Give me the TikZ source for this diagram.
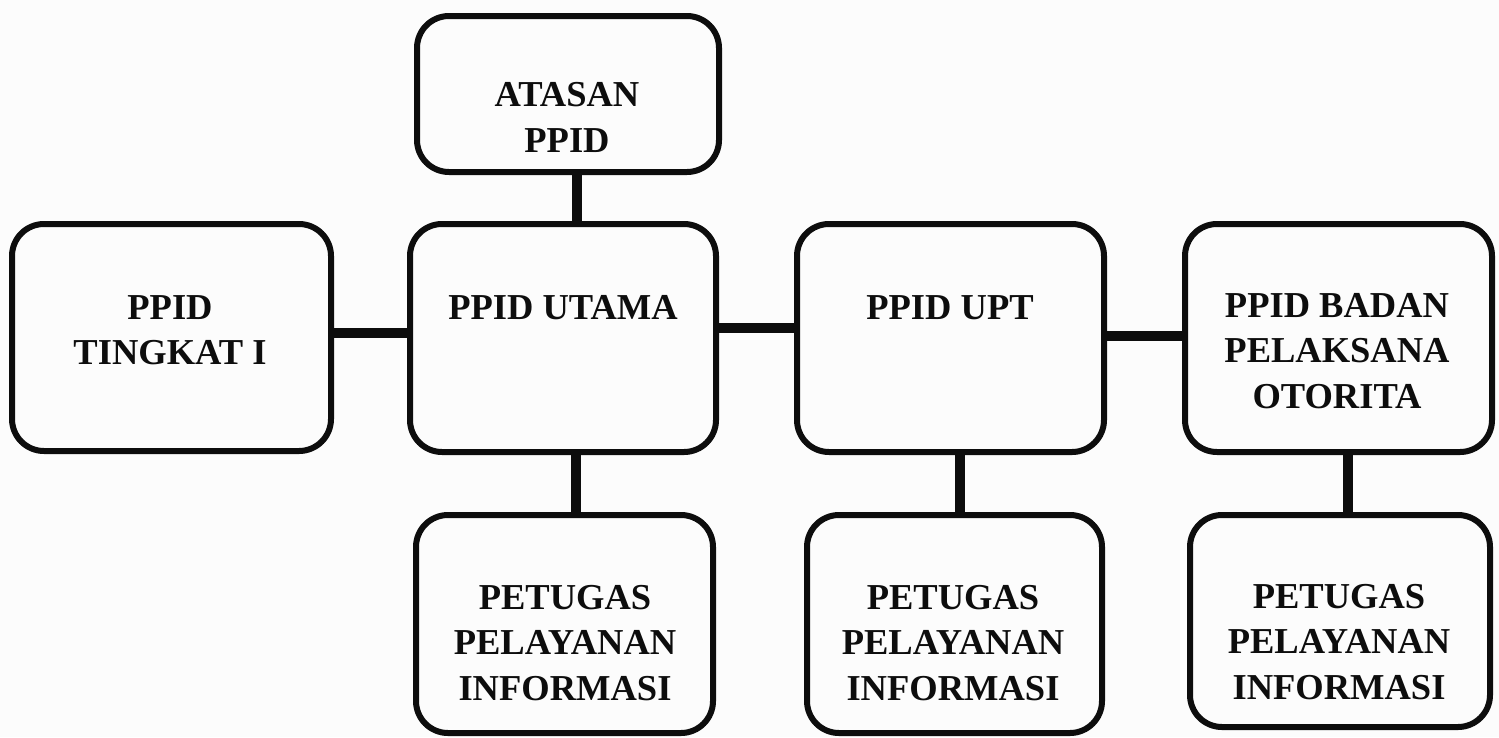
\documentclass[tikz,border=0pt]{standalone}
\usepackage{fontspec}
\setmainfont{Liberation Serif}
\begin{document}
\begin{tikzpicture}[x=1pt,y=-1pt,
  box/.style={draw=black!95, line width=6pt, rounded corners=32pt, inner sep=0pt, fill=none},
  conn/.style={draw=black!95, line width=10pt},
  lbl/.style={align=center, inner sep=0pt, text=black!95, font=\bfseries\fontsize{36.5}{45.5}\selectfont}]
\path[fill=black!1] (0,0) rectangle (1499,737);
\useasboundingbox (0,0) rectangle (1499,737);
% boxes (centre, size)
\node[box, minimum width=302pt, minimum height=156pt] (atasan) at (568,94) {};
\node[box, minimum width=319pt, minimum height=227pt] (tingkat) at (171.5,337.5) {};
\node[box, minimum width=306pt, minimum height=228pt] (utama) at (563,338) {};
\node[box, minimum width=307pt, minimum height=228pt] (upt) at (950.5,338) {};
\node[box, minimum width=307pt, minimum height=228pt] (badan) at (1338.5,338) {};
\node[box, minimum width=297pt, minimum height=218pt] (pet1) at (564.5,624) {};
\node[box, minimum width=295pt, minimum height=218pt] (pet2) at (954.5,624) {};
\node[box, minimum width=300pt, minimum height=212pt] (pet3) at (1340,621) {};
% texts
\node[lbl] (tatasan) at (567,117.5) {ATASAN\\PPID};
\node[lbl] (ttingkat) at (170,330) {PPID\\TINGKAT I};
\node[lbl] (tutama) at (563,308) {PPID UTAMA};
\node[lbl] (tupt) at (950,308) {PPID UPT};
\node[lbl] (tbadan) at (1337,351) {PPID BADAN\\PELAKSANA\\OTORITA};
\node[lbl] (tpet1) at (565,643) {PETUGAS\\PELAYANAN\\INFORMASI};
\node[lbl] (tpet2) at (953,643) {PETUGAS\\PELAYANAN\\INFORMASI};
\node[lbl] (tpet3) at (1339,642) {PETUGAS\\PELAYANAN\\INFORMASI};
% connectors
\draw[conn] (577,0 |- atasan.south) -- (577,0 |- utama.north);
\draw[conn] (tingkat.east |- 0,333) -- (utama.west |- 0,333);
\draw[conn] (utama.east |- 0,328) -- (upt.west |- 0,328);
\draw[conn] (upt.east |- 0,336) -- (badan.west |- 0,336);
\draw[conn] (576,0 |- utama.south) -- (576,0 |- pet1.north);
\draw[conn] (960,0 |- upt.south) -- (960,0 |- pet2.north);
\draw[conn] (1348,0 |- badan.south) -- (1348,0 |- pet3.north);
\end{tikzpicture}
\end{document}
